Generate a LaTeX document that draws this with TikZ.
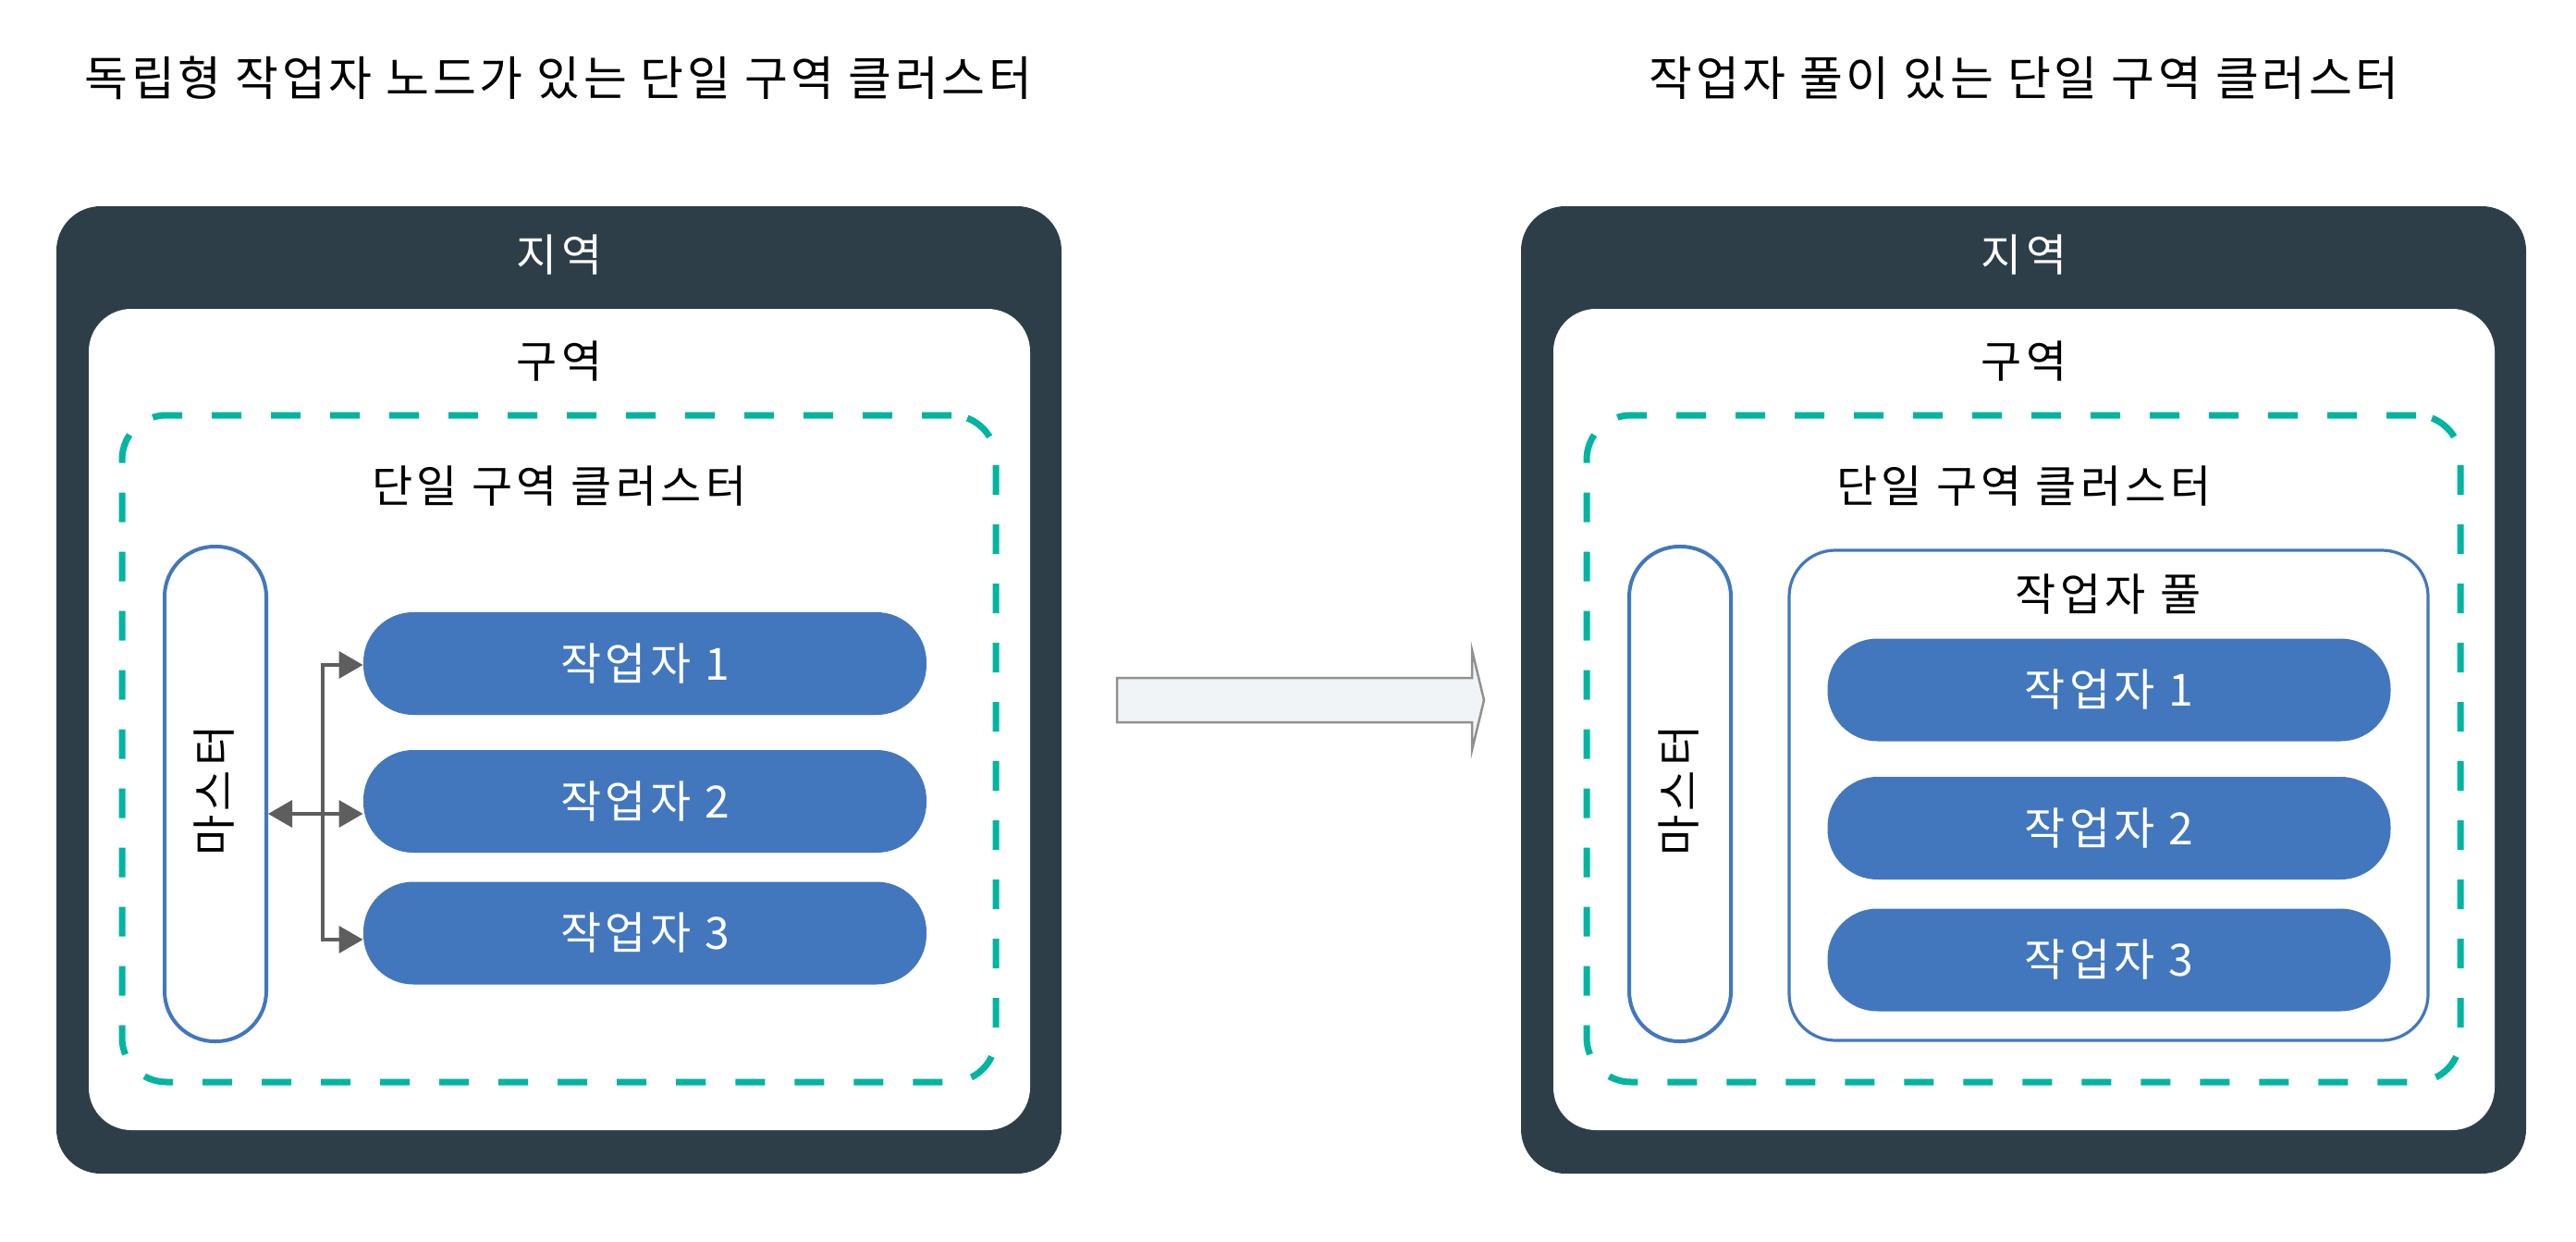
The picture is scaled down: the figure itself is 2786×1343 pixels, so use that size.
\documentclass[tikz,border=0pt]{standalone}
\usepackage{fontspec}
\newfontfamily\kr[LetterSpace=9]{Noto Sans CJK KR}
\newfontfamily\krtitle[LetterSpace=7]{Noto Sans CJK KR}
\usetikzlibrary{arrows.meta}
\definecolor{darkslate}{HTML}{2E3E48}
\definecolor{tealdash}{HTML}{00B5A0}
\definecolor{wblue}{HTML}{4277BE}
\definecolor{gconn}{HTML}{5E5E5E}
\definecolor{afill}{HTML}{F1F4F7}
\definecolor{aline}{HTML}{909090}
\tikzset{
  regionbox/.style={fill=darkslate, rounded corners=24pt, inner sep=0pt, minimum width=543.5pt, minimum height=523pt},
  zonebox/.style={fill=white, rounded corners=23pt, inner sep=0pt, minimum width=509pt, minimum height=444pt},
  clusterbox/.style={draw=tealdash, line width=3.5pt, dash pattern=on 16pt off 16pt, rounded corners=24pt, inner sep=0pt, minimum width=472.5pt, minimum height=360.5pt},
  masterbox/.style={draw=wblue, line width=2pt, fill=white, rounded corners=27pt, inner sep=0pt, minimum width=55pt, minimum height=267.5pt},
  poolbox/.style={draw=wblue, line width=1.6pt, fill=white, rounded corners=25pt, inner sep=0pt, minimum width=345.5pt, minimum height=265pt},
  workerbox/.style={fill=wblue, rounded corners=27pt, inner sep=0pt, minimum width=304.5pt, minimum height=55.5pt, text=white, font=\kr\fontsize{24}{28}\selectfont},
  lbl/.style={inner sep=0pt, font=\kr\fontsize{24}{28}\selectfont},
  titlelbl/.style={inner sep=0pt, font=\krtitle\fontsize{25.5}{30}\selectfont},
  conn/.style={draw=gconn, line width=1.75pt, -{Triangle[length=13pt,width=14.5pt]}},
  bothconn/.style={draw=gconn, line width=1.75pt, {Triangle[length=13pt,width=14.5pt]}-{Triangle[length=13pt,width=14.5pt]}}
}
\begin{document}
\begin{tikzpicture}[x=0.5pt,y=-0.5pt]
\useasboundingbox (0,0) rectangle (2786,1343);
% titles
\node[titlelbl] (tleft) at (604,84) {독립형 작업자 노드가 있는 단일 구역 클러스터};
\node[titlelbl] (tright) at (2189,84) {작업자 풀이 있는 단일 구역 클러스터};
% ---------- left panel ----------
\node[regionbox] (regL) at (604.5,746) {};
\node[lbl, text=white] (regLt) at (605,276) {지역};
\node[zonebox] (zoneL) at (605,778) {};
\node[lbl] (zoneLt) at (605,391) {구역};
\node[clusterbox] (clL) at (604.5,809.5) {};
\node[lbl] (clLt) at (605,526) {단일 구역 클러스터};
\node[masterbox] (mL) at (233,858.5) {};
\node[lbl, rotate=90] (mLt) at (232,855) {마스터};
\node[workerbox] (w1L) at (697.5,717.5) {작업자 1};
\node[workerbox] (w2L) at (697.5,866.5) {작업자 2};
\node[workerbox] (w3L) at (697.5,1009) {작업자 3};
\coordinate (bus) at (349,880);
\draw[bothconn] (mL.east |- bus) -- (w2L.west |- bus);
\draw[conn] (bus) |- ([yshift=-0.75pt]w1L.west);
\draw[conn] (bus) |- ([yshift=-3.5pt]w3L.west);
% ---------- transition arrow ----------
\draw[fill=afill, draw=aline, line width=1.25pt]
  (1208,733) -- (1592,733) -- (1592,703) -- (1605,757) -- (1592,811) -- (1592,781) -- (1208,781) -- cycle;
% ---------- right panel ----------
\node[regionbox] (regR) at (2188.5,746) {};
\node[lbl, text=white] (regRt) at (2189,276) {지역};
\node[zonebox] (zoneR) at (2189,778) {};
\node[lbl] (zoneRt) at (2189,391) {구역};
\node[clusterbox] (clR) at (2188.5,809.5) {};
\node[lbl] (clRt) at (2189,526) {단일 구역 클러스터};
\node[masterbox] (mR) at (1817,858.5) {};
\node[lbl, rotate=90] (mRt) at (1816,855) {마스터};
\node[poolbox] (pool) at (2280.5,860) {};
\node[lbl] (poolt) at (2280,643) {작업자 풀};
\node[workerbox] (w1R) at (2281,746) {작업자 1};
\node[workerbox] (w2R) at (2281,895.5) {작업자 2};
\node[workerbox] (w3R) at (2281,1038) {작업자 3};
\end{tikzpicture}
\end{document}
